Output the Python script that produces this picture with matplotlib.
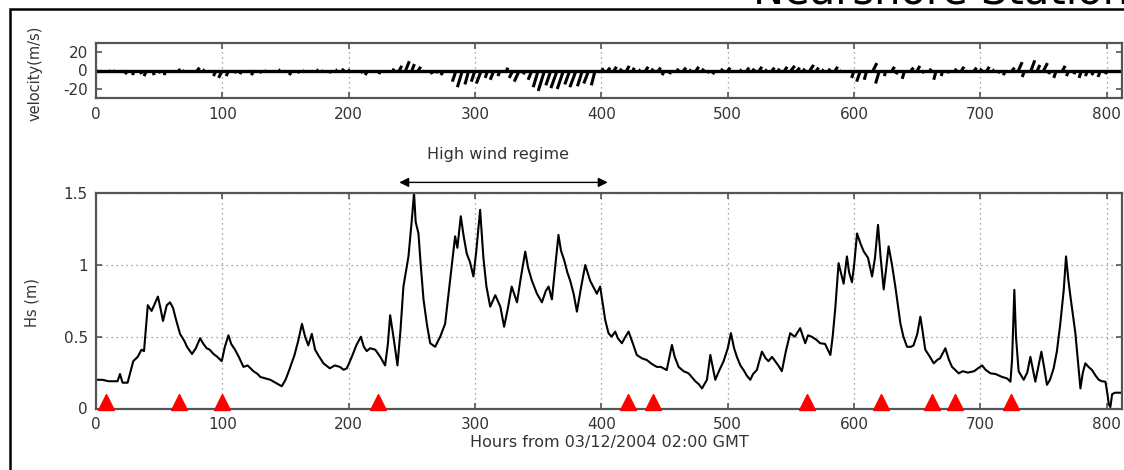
import matplotlib
matplotlib.use("Agg")
import matplotlib.pyplot as plt
from matplotlib.patches import Rectangle
import numpy as np

# ---------------- data ----------------
title_text = "Nearshore Station"
xlabel_text = "Hours from 03/12/2004 02:00 GMT"
regime_text = "High wind regime"
regime_start, regime_end = 240, 405

x_ticks = [0, 100, 200, 300, 400, 500, 600, 700, 800]
vel_ticks = [-20, 0, 20]
hs_ticks = [0, 0.5, 1, 1.5]
hs_ticklabels = ["0", "0.5", "1", "1.5"]

# wind velocity stick (feather) plot, one stick every 5 hours
vel_hours = list(range(0, 810, 5))
vel_v = [
    -1, -2, -1, -1, -2, -4, -5, -4, -6, -5, -3, -5, -2, 1, -1, 0, 3, 1, -2, -6,
    -8, -6, -3, -4, -2, -5, -3, -1, -2, 1, -2, -5, -3, -1, -2, 1, -1, -3, 1, 2,
    1, -2, -3, -5, -2, -4, 0, 2, 5, 10, 7, 4, -2, -4, -3, -5, -2, -12, -18, -15,
    -12, -14, -8, -10, -6, 3, -8, -12, -4, -10, -18, -22, -16, -19, -20, -15, -18, -17, -14, -16,
    2, 3, 4, 2, 5, 3, 1, 4, 2, 3, -5, -4, 2, 3, 1, 4, 2, -3, -4, 2,
    3, -2, 1, 3, 2, 4, 1, 3, 2, 4, 5, 3, 2, 6, 3, 1, 2, 4, -1, 0,
    -8, -12, -10, 8, -14, -6, 4, -4, -9, 3, 5, -3, 2, -10, -6, -3, 2, 4, -2, 3,
    2, 4, 1, -3, -5, 3, 9, -7, 11, 6, 8, -4, -8, 5, -6, -4, -8, -6, -5, -7,
    -4, -2,
]
vel_u = [
    1, -1, 1, -1, 1, -2, -1, 1, -2, 1, 1, -1, 1, 2, -1, 1, 2, 1, -1, -2,
    -3, -2, 1, -1, 1, -2, 1, -1, 1, 1, -1, -2, 1, -1, 1, 1, -1, 1, 1, 1,
    1, -1, 1, -2, 1, -1, 1, 1, 2, 3, 2, 2, -1, 1, -1, -2, 1, -3, -4, -3,
    -3, -4, -2, -3, -2, 1, -3, -4, -2, -3, -4, -5, -4, -5, -5, -4, -5, -4, -4, -3,
    2, 2, 2, 1, 2, 1, 1, 2, 1, 2, -2, -1, 1, 2, 1, 2, 1, -1, -2, 1,
    2, -1, 1, 2, 1, 2, 1, 2, 1, 2, 3, 2, 1, 3, 2, 1, 1, 2, -1, 1,
    -2, -3, -2, 3, -3, -1, 2, -2, -2, 2, 2, -1, 1, -2, -1, -1, 1, 2, -1, 2,
    1, 2, 1, -1, -2, 2, 3, -2, 3, 2, 3, -1, -2, 2, -2, -1, -2, -2, -2, -2,
    -1, -1,
]

# significant wave height
hs_hours = [
    0, 5, 10, 17, 19, 21, 25, 29.5, 33, 36,
    38, 41, 44, 47, 49, 51, 53, 56, 58.6, 61,
    63, 66.5, 70, 72, 76, 79, 82.4, 85, 87.6, 90,
    93, 96, 99.5, 102, 104.8, 107, 110, 113, 116.7, 120,
    124.6, 128, 130, 134, 138, 142, 147, 150, 153, 157,
    160, 163, 165.5, 168, 170.8, 173.4, 176, 180, 185, 189,
    193, 196, 198.5, 201, 203.8, 206, 209.6, 212, 214.3, 217,
    221, 225, 228.8, 231, 232.8, 235.4, 238.6, 241, 243.3, 247.3,
    250, 251.7, 253, 255.2, 257, 259.2, 262, 264.5, 268.4, 272.4,
    276.3, 280.3, 284.2, 286, 288.7, 291, 293.4, 296, 298.7, 301,
    304, 306.6, 309, 312, 316, 320, 323, 326, 329, 333.2,
    336, 339.7, 342, 345, 349, 352.9, 356, 358.2, 360.8, 363,
    366, 368, 370.5, 373, 375.3, 378, 380.6, 384, 387.2, 391.1,
    394, 396.4, 399, 403, 405.6, 408, 410.9, 413, 416.2, 419,
    421.5, 425, 428, 432, 435.9, 440, 443.8, 447, 451.7, 455.8,
    458, 461.1, 465, 469, 474.3, 477, 479.6, 483.5, 486.2, 490.1,
    493, 496.7, 500, 502.5, 505, 507.2, 510, 512.5, 515, 517.8,
    520, 523, 527, 530, 532.2, 535, 537.5, 540, 542.8, 546,
    549.4, 553, 557.3, 561.3, 563.5, 566.5, 570, 573.1, 577, 581.2,
    583, 585.1, 587.7, 589.5, 591.7, 594.3, 596, 598.3, 600, 602.3,
    605, 607.6, 611, 614.2, 616.5, 618.9, 621, 623.4, 625, 627.3,
    630, 632.6, 636.6, 639, 641.9, 645, 647, 650, 652.4, 654,
    656.3, 660, 663, 666, 668, 672.2, 675, 677.5, 682.8, 686,
    690, 695, 698, 701.3, 704, 707.9, 712, 717.1, 721, 723.7,
    725, 726.8, 728.1, 730.2, 734.2, 737, 739.5, 743.4, 745.5, 748.2,
    750.5, 752.6, 755, 757.9, 760.5, 763.2, 765.9, 767.7, 769.5, 771.2,
    775.1, 779.1, 781, 783, 785.5, 788.3, 791, 793.6, 796, 798.9,
    800.5, 801.5, 802.8, 804.2, 806.5, 809.4, 812,
]
hs_values = [
    0.20, 0.20, 0.19, 0.19, 0.24, 0.18, 0.18, 0.33, 0.36, 0.41,
    0.40, 0.72, 0.68, 0.74, 0.78, 0.70, 0.61, 0.72, 0.74, 0.70,
    0.63, 0.52, 0.47, 0.43, 0.38, 0.42, 0.49, 0.45, 0.42, 0.41,
    0.38, 0.36, 0.33, 0.43, 0.51, 0.45, 0.41, 0.36, 0.29, 0.30,
    0.26, 0.24, 0.22, 0.21, 0.20, 0.18, 0.155, 0.20, 0.27, 0.37,
    0.47, 0.59, 0.50, 0.44, 0.52, 0.41, 0.37, 0.315, 0.28, 0.30,
    0.29, 0.27, 0.28, 0.33, 0.39, 0.44, 0.50, 0.43, 0.40, 0.42,
    0.41, 0.36, 0.30, 0.45, 0.65, 0.50, 0.30, 0.55, 0.85, 1.06,
    1.32, 1.50, 1.30, 1.22, 1.00, 0.76, 0.58, 0.455, 0.43, 0.50,
    0.59, 0.90, 1.20, 1.12, 1.34, 1.20, 1.08, 1.02, 0.92, 1.10,
    1.385, 1.05, 0.85, 0.71, 0.79, 0.71, 0.57, 0.70, 0.85, 0.74,
    0.90, 1.094, 0.98, 0.89, 0.80, 0.74, 0.82, 0.85, 0.76, 0.95,
    1.21, 1.10, 1.035, 0.95, 0.89, 0.80, 0.675, 0.85, 1.00, 0.89,
    0.84, 0.80, 0.85, 0.617, 0.525, 0.50, 0.536, 0.49, 0.455, 0.50,
    0.536, 0.45, 0.373, 0.35, 0.338, 0.31, 0.29, 0.29, 0.268, 0.443,
    0.36, 0.29, 0.26, 0.245, 0.19, 0.17, 0.14, 0.20, 0.373, 0.20,
    0.26, 0.33, 0.42, 0.525, 0.42, 0.36, 0.30, 0.268, 0.23, 0.20,
    0.24, 0.268, 0.396, 0.35, 0.33, 0.36, 0.33, 0.30, 0.26, 0.40,
    0.525, 0.50, 0.56, 0.455, 0.51, 0.50, 0.48, 0.455, 0.45, 0.373,
    0.50, 0.70, 1.013, 0.95, 0.87, 1.06, 0.95, 0.88, 1.00, 1.22,
    1.15, 1.095, 1.05, 0.92, 1.05, 1.28, 1.05, 0.83, 0.95, 1.13,
    1.00, 0.85, 0.594, 0.50, 0.43, 0.43, 0.44, 0.52, 0.64, 0.55,
    0.41, 0.36, 0.315, 0.34, 0.35, 0.42, 0.34, 0.29, 0.245, 0.26,
    0.25, 0.26, 0.28, 0.30, 0.27, 0.245, 0.24, 0.22, 0.21, 0.187,
    0.34, 0.827, 0.50, 0.26, 0.20, 0.25, 0.36, 0.187, 0.28, 0.396,
    0.28, 0.165, 0.20, 0.28, 0.40, 0.594, 0.827, 1.06, 0.90, 0.78,
    0.525, 0.14, 0.25, 0.315, 0.29, 0.268, 0.23, 0.20, 0.19, 0.187,
    0.10, 0.03, 0.01, 0.10, 0.11, 0.11, 0.11,
]

# low-wind event markers
event_hours = [8, 66, 100, 223, 421, 441, 563, 621, 662, 680, 724]

assert len(vel_u) == len(vel_v) == len(vel_hours)
assert len(hs_hours) == len(hs_values)

# ---------------- figure ----------------
W, H = 1124, 470
plt.rcParams['font.family'] = ['DejaVu Sans']
plt.rcParams['axes.unicode_minus'] = False
fig = plt.figure(figsize=(W / 100, H / 100), dpi=100)

TXT = '#333333'
SPINE = '#555555'
GRID = dict(color='#8a8a8a', linestyle=(0, (1, 3)), linewidth=0.9)
XMAX = 812

def px_axes(x0, y0, x1, y1):
    return fig.add_axes([x0 / W, 1 - y1 / H, (x1 - x0) / W, (y1 - y0) / H])

def style(ax):
    for s in ax.spines.values():
        s.set_color(SPINE)
        s.set_linewidth(1.6)
    ax.tick_params(direction='in', length=4, width=1.2, colors=SPINE,
                   labelcolor=TXT, labelsize=11, top=True, right=True, pad=6)

# outer frame (cropped)
fig.patches.append(Rectangle((9.5 / W, -0.1), 1.2, 1 - 9 / H + 0.1,
                             transform=fig.transFigure, fill=False,
                             edgecolor='black', linewidth=1.8))
fig.text(753 / W, 1 - 3 / H, title_text, fontsize=30, ha='left',
         va='baseline', color='black')

# ---- top: velocity ----
ax1 = px_axes(96, 42.7, 1122, 98.3)
for t, u, v in zip(vel_hours, vel_u, vel_v):
    ax1.plot([t, t + u], [0, v], color='black', linewidth=2.2,
             solid_capstyle='butt')
ax1.axhline(0, color='black', linewidth=2.4)
ax1.set_xlim(0, XMAX)
ax1.set_ylim(-30, 30)
ax1.set_xticks(x_ticks)
ax1.set_yticks(vel_ticks)
ax1.grid(axis='x', **GRID)
style(ax1)
ax1.set_ylabel("velocity(m/s)", fontsize=10.5, color=TXT, labelpad=4)
ax1.yaxis.set_label_coords(-0.052, 0.45)

# ---- bottom: Hs ----
ax2 = px_axes(96, 193.3, 1122, 408.5)
ax2.plot(hs_hours, hs_values, color='black', linewidth=1.5)
ax2.plot(event_hours, [0.045] * len(event_hours), linestyle='none',
         marker='^', markersize=11, color='#ff0000', clip_on=False, zorder=5)
ax2.set_xlim(0, XMAX)
ax2.set_ylim(0, 1.5)
ax2.set_xticks(x_ticks)
ax2.set_yticks(hs_ticks)
ax2.set_yticklabels(hs_ticklabels)
ax2.grid(True, **GRID)
style(ax2)
ax2.set_ylabel("Hs (m)", fontsize=10.5, color=TXT)
ax2.yaxis.set_label_coords(-0.055, 0.49)
ax2.set_xlabel(xlabel_text, fontsize=11.5, color=TXT, labelpad=2)

# high wind regime arrow
ax2.annotate('', xy=(regime_start, 1.576), xytext=(regime_end, 1.576),
             arrowprops=dict(arrowstyle='<|-|>', color='black', lw=1.0,
                             mutation_scale=14, shrinkA=0, shrinkB=0),
             annotation_clip=False)
ax2.text((regime_start + regime_end) / 2 - 4, 1.77, regime_text,
         ha='center', va='center', fontsize=11.5, color=TXT)

fig.savefig("out.png", dpi=100)
